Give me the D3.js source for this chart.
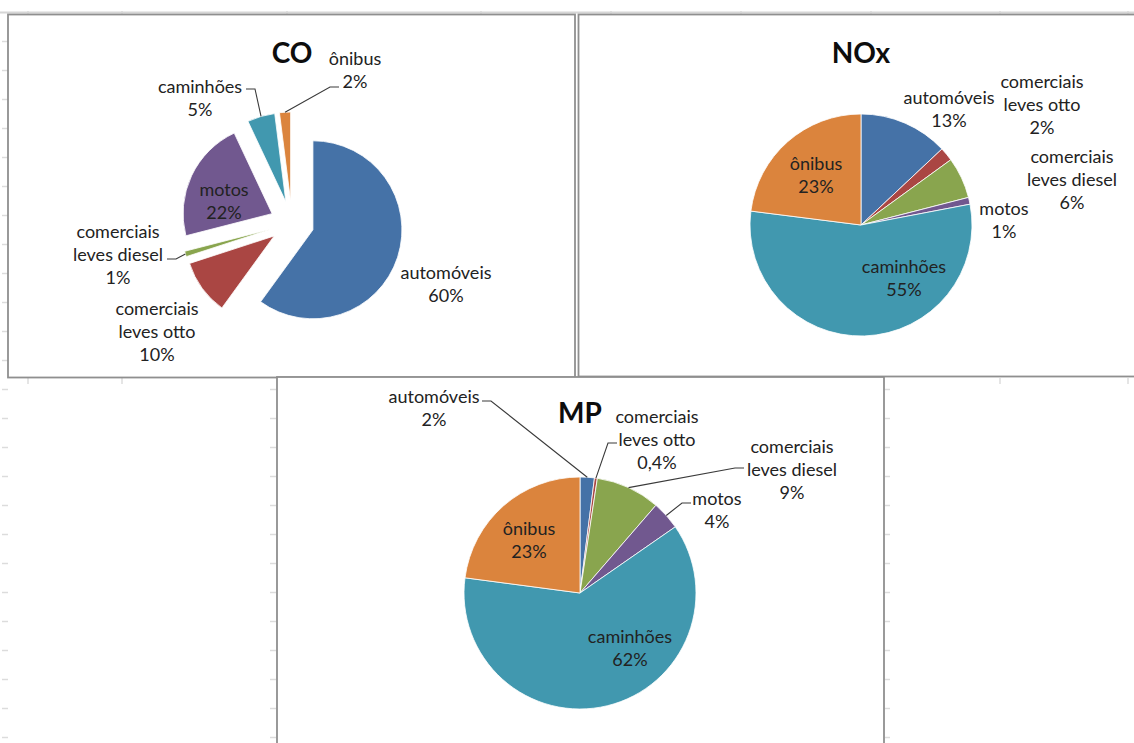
<!DOCTYPE html>
<html>
<head>
<meta charset="utf-8">
<script src="https://cdn.jsdelivr.net/npm/d3@7"></script>
<style>
  body { margin: 0; background: #fff; }
  svg { display: block; }
  text { font-family: Lato, "Open Sans", sans-serif; }
</style>
</head>
<body>
<svg id="chart" width="1134" height="743"></svg>
<script>
// Vehicle categories, in slice order (clockwise from 12 o'clock)
const categories = ["automóveis", "comerciais leves otto", "comerciais leves diesel", "motos", "caminhões", "ônibus"];
const categoryLines = [["automóveis"], ["comerciais", "leves otto"], ["comerciais", "leves diesel"], ["motos"], ["caminhões"], ["ônibus"]];

// Share of emissions (%) per pollutant
const coValues  = [60, 10, 1, 22, 5, 2];
const noxValues = [13, 2, 6, 1, 55, 23];
const mpValues  = [2, 0.4, 9, 4, 62, 23];

const sliceColors = ["#4572A7", "#AA4643", "#89A54E", "#71588F", "#4198AF", "#DB843D"];

// Percent label in pt-BR notation (decimal comma)
const pct = v => String(v).replace(".", ",") + "%";

const svg = d3.select("#chart");
svg.append("rect").attr("width", 1134).attr("height", 743).attr("fill", "#fff");

// ---- faint worksheet gridline stubs around the chart objects ----
const grid = svg.append("g").attr("stroke", "#dcdcdc").attr("stroke-width", 1.5);
const rows = d3.range(41.5, 743, 29);
grid.selectAll(".rl").data(rows).join("line")
  .attr("x1", 2).attr("x2", 8).attr("y1", d => d).attr("y2", d => d);
grid.selectAll(".rm").data(rows.filter(y => y > 380)).join("line")
  .attr("x1", 270).attr("x2", 276).attr("y1", d => d).attr("y2", d => d);
grid.selectAll(".rr").data(rows.filter(y => y > 380)).join("line")
  .attr("x1", 885).attr("x2", 890).attr("y1", d => d).attr("y2", d => d);
const colsTop = [28, 122, 287, 481, 611, 741, 871, 1000, 1128];
grid.selectAll(".ct").data(colsTop).join("line")
  .attr("x1", d => d).attr("x2", d => d).attr("y1", 11).attr("y2", 16);
grid.selectAll(".cb").data([28, 122, 1000, 1128]).join("line")
  .attr("x1", d => d).attr("x2", d => d).attr("y1", 378).attr("y2", 384);
svg.append("line").attr("x1", 0).attr("x2", 1134).attr("y1", 12.5).attr("y2", 12.5)
  .attr("stroke", "#d6d6d6").attr("stroke-width", 2);

// ---- chart layouts: frame, pie centre/radius, label placement ----
const charts = [
  {
    title: "CO", values: coValues,
    box: [8, 14.5, 567, 363], titleY: 63,
    cx: 292, cy: 223, r: 89, explode: 22,
    labels: [
      { dx: 154, dy: 61 },
      { dx: -135, dy: 109 },
      { dx: -174, dy: 32, lead: [-125, 36] },
      { dx: -68, dy: -22 },
      { dx: -92, dy: -125, lead: [-46, -134] },
      { dx: 63, dy: -153, lead: [47, -136] }
    ]
  },
  {
    title: "NOx", values: noxValues,
    box: [578.5, 14.5, 580, 362], titleY: 63,
    cx: 861, cy: 225, r: 111, explode: 0,
    labels: [
      { dx: 88, dy: -116 },
      { dx: 181, dy: -120 },
      { dx: 211, dy: -45 },
      { dx: 143, dy: -5 },
      { dx: 43, dy: 53 },
      { dx: -45, dy: -50 }
    ]
  },
  {
    title: "MP", values: mpValues,
    box: [277, 377, 607, 380], titleY: 423,
    cx: 580, cy: 593, r: 116, explode: 0,
    labels: [
      { dx: -146, dy: -185, lead: [-98, -192] },
      { dx: 77, dy: -153, lead: [37, -150] },
      { dx: 212, dy: -123, lead: [164, -125] },
      { dx: 137, dy: -83, lead: [111, -90] },
      { dx: 50, dy: 55 },
      { dx: -51, dy: -53 }
    ]
  }
];

const lineH = 23;
const pie = d3.pie().sort(null).value(d => d);

charts.forEach(ch => {
  const g = svg.append("g");

  // chart frame
  g.append("rect")
    .attr("x", ch.box[0]).attr("y", ch.box[1])
    .attr("width", ch.box[2]).attr("height", ch.box[3])
    .attr("fill", "#fff").attr("stroke", "#8f8f8f").attr("stroke-width", 1.8);

  // title, centred over the pie
  g.append("text")
    .attr("x", ch.cx)
    .attr("y", ch.titleY)
    .attr("text-anchor", "middle")
    .attr("font-size", 28).attr("font-weight", 700).attr("fill", "#0d0d0d")
    .text(ch.title);

  const arcs = pie(ch.values);
  const arc = d3.arc().innerRadius(0).outerRadius(ch.r);
  const rim = d3.arc().innerRadius(ch.r).outerRadius(ch.r);
  const unit = d => {
    const a = (d.startAngle + d.endAngle) / 2;
    return [Math.sin(a), -Math.cos(a)];
  };
  const shift = d => unit(d).map(u => u * ch.explode);

  const pg = g.append("g").attr("transform", `translate(${ch.cx},${ch.cy})`);

  pg.selectAll("path.slice").data(arcs).join("path")
    .attr("class", "slice")
    .attr("transform", d => { const s = shift(d); return `translate(${s[0]},${s[1]})`; })
    .attr("d", arc)
    .attr("fill", (d, i) => sliceColors[i])
    .attr("stroke", "#fff").attr("stroke-width", 0.8);

  // leader lines: label edge -> short horizontal -> slice rim
  arcs.forEach((d, i) => {
    const L = ch.labels[i];
    if (!L.lead) return;
    const s = shift(d);
    const c = rim.centroid(d);
    const end = [c[0] + s[0], c[1] + s[1]];
    const dir = Math.sign(end[0] - L.lead[0]) || 1;
    const knee = [L.lead[0] + dir * 9, L.lead[1]];
    pg.append("path")
      .attr("d", d3.line()([L.lead, knee, end]))
      .attr("fill", "none").attr("stroke", "#3a3a3a").attr("stroke-width", 1.1);
  });

  // data labels: category name + percentage
  arcs.forEach((d, i) => {
    const L = ch.labels[i];
    const lines = categoryLines[i].concat([pct(ch.values[i])]);
    const t = pg.append("text")
      .attr("text-anchor", "middle")
      .attr("font-size", 18).attr("fill", "#222");
    const y0 = L.dy - (lines.length - 1) * lineH / 2;
    lines.forEach((s, k) => {
      t.append("tspan")
        .attr("x", L.dx).attr("y", y0 + k * lineH).attr("dy", "0.35em")
        .text(s);
    });
  });
});
</script>
</body>
</html>
